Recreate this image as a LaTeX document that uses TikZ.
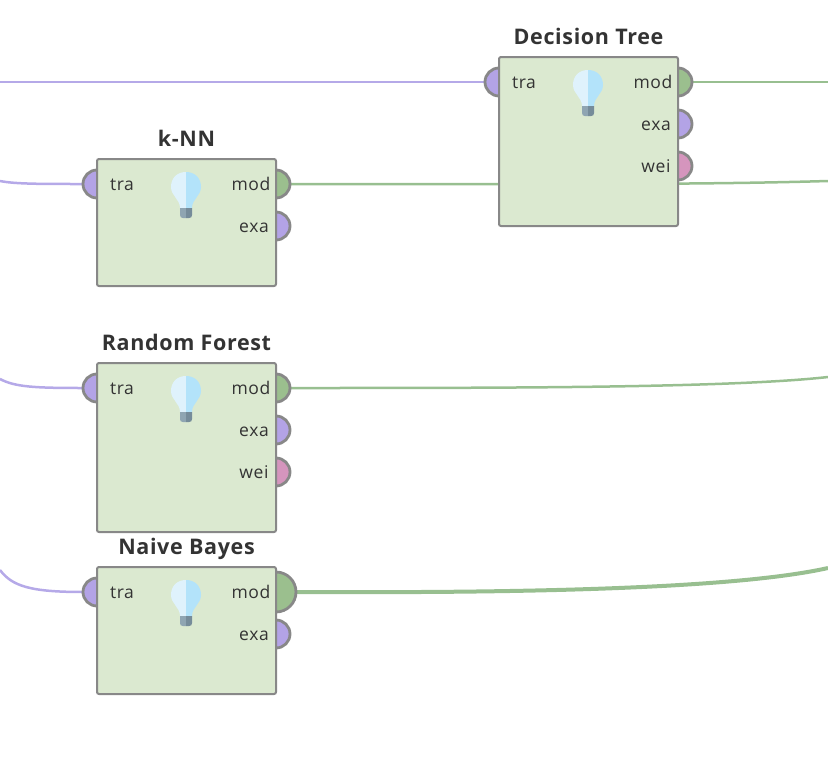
\documentclass[tikz,border=0pt]{standalone}
\usepackage{fontspec}
\setmainfont{Open Sans}
\newfontfamily\titlefont{Open Sans}[LetterSpace=3]
\newfontfamily\labelfont{Open Sans}[LetterSpace=3.5]
\usetikzlibrary{backgrounds}

\definecolor{boxgreen}{HTML}{DBE9D0}
\definecolor{boxline}{HTML}{888888}
\definecolor{portpurple}{HTML}{B3A3E6}
\definecolor{portgreen}{HTML}{9BBF8E}
\definecolor{portpink}{HTML}{D595BD}
\definecolor{wirepurple}{HTML}{B5A9E8}
\definecolor{wiregreen}{HTML}{98BF90}
\definecolor{txtdark}{HTML}{333333}
\definecolor{bulbleft}{HTML}{DFF2FC}
\definecolor{bulbright}{HTML}{B3E3FA}
\definecolor{baseleft}{HTML}{8FA5B2}
\definecolor{baseright}{HTML}{768C9A}

\tikzset{
	opbox/.style={draw=boxline,fill=boxgreen,line width=2pt,rounded corners=2pt,anchor=north west,minimum width=179pt,inner sep=0pt,outer sep=0pt},
	port/.style={circle,draw=boxline,line width=2.8pt,minimum size=28pt,inner sep=0pt,outer sep=0pt},
	bigport/.style={port,minimum size=40pt},
	optitle/.style={font=\titlefont\fontsize{21.5}{21.5}\selectfont\bfseries,text=txtdark,anchor=base},
	portlabel/.style={font=\labelfont\fontsize{17.5}{17.5}\selectfont,text=txtdark,anchor=base},
	purplewire/.style={draw=wirepurple,line width=2.5pt},
	greenwire/.style={draw=wiregreen,line width=2.5pt},
}

% bulb icon, #1 is its centre top
\newcommand{\drawbulb}[1]{
	\begin{scope}[shift={#1}]
		\fill[bulbleft] (0,0) .. controls (-9,0) and (-15,6) .. (-15,15) .. controls (-15,24) and (-6,27) .. (-6,36) -- (0,36) -- cycle;
		\fill[bulbright] (0,0) .. controls (9,0) and (15,6) .. (15,15) .. controls (15,24) and (6,27) .. (6,36) -- (0,36) -- cycle;
		\fill[baseleft] (-6,36) -- (0,36) -- (0,46) -- (-3,46) .. controls (-5,46) and (-6,45) .. (-6,43) -- cycle;
		\fill[baseright] (6,36) -- (0,36) -- (0,46) -- (3,46) .. controls (5,46) and (6,45) .. (6,43) -- cycle;
	\end{scope}
}

\begin{document}
\begin{tikzpicture}[x=1pt,y=-1pt]
	\useasboundingbox (0,0) rectangle (828,758);
	\coordinate (leftA) at (0,82);
	\coordinate (leftB) at (0,181);
	\coordinate (leftC) at (0,379);
	\coordinate (leftD) at (0,570);
	\coordinate (rightA) at (828,82);
	\coordinate (rightB) at (828,181);
	\coordinate (rightC) at (828,377);
	\coordinate (rightD) at (828,568);

	% k-NN
	\begin{scope}[shift={(97,159)}]
		\node[port,fill=portpurple] (knntra) at (0,25) {};
		\node[port,fill=portgreen] (knnmod) at (179,25) {};
		\node[port,fill=portpurple] (knnexa) at (179,67) {};
		\node[opbox,minimum height=127pt] (knn) at (0,0) {};
		\node[optitle] (knntitle) at (89.5,-13) {k-NN};
		\node[portlabel] (knntraL) at (25,31) {tra};
		\node[portlabel] (knnmodL) at (154,31) {mod};
		\node[portlabel] (knnexaL) at (157,73) {exa};
		\drawbulb{(89,13)}
	\end{scope}

	% Decision Tree
	\begin{scope}[shift={(499,57)}]
		\node[port,fill=portpurple] (dttra) at (0,25) {};
		\node[port,fill=portgreen] (dtmod) at (179,25) {};
		\node[port,fill=portpurple] (dtexa) at (179,67) {};
		\node[port,fill=portpink] (dtwei) at (179,109) {};
		\node[opbox,minimum height=169pt] (dt) at (0,0) {};
		\node[optitle] (dttitle) at (89.5,-13) {Decision Tree};
		\node[portlabel] (dttraL) at (25,31) {tra};
		\node[portlabel] (dtmodL) at (154,31) {mod};
		\node[portlabel] (dtexaL) at (157,73) {exa};
		\node[portlabel] (dtweiL) at (157,115) {wei};
		\drawbulb{(89,13)}
	\end{scope}

	% Random Forest
	\begin{scope}[shift={(97,363)}]
		\node[port,fill=portpurple] (rftra) at (0,25) {};
		\node[port,fill=portgreen] (rfmod) at (179,25) {};
		\node[port,fill=portpurple] (rfexa) at (179,67) {};
		\node[port,fill=portpink] (rfwei) at (179,109) {};
		\node[opbox,minimum height=169pt] (rf) at (0,0) {};
		\node[optitle] (rftitle) at (89.5,-13) {Random Forest};
		\node[portlabel] (rftraL) at (25,31) {tra};
		\node[portlabel] (rfmodL) at (154,31) {mod};
		\node[portlabel] (rfexaL) at (157,73) {exa};
		\node[portlabel] (rfweiL) at (157,115) {wei};
		\drawbulb{(89,13)}
	\end{scope}

	% Naive Bayes
	\begin{scope}[shift={(97,567)}]
		\node[port,fill=portpurple] (nbtra) at (0,25) {};
		\node[bigport,fill=portgreen] (nbmod) at (179,25) {};
		\node[port,fill=portpurple] (nbexa) at (179,67) {};
		\node[opbox,minimum height=127pt] (nb) at (0,0) {};
		\node[optitle] (nbtitle) at (89.5,-13) {Naive Bayes};
		\node[portlabel] (nbtraL) at (25,31) {tra};
		\node[portlabel] (nbmodL) at (154,31) {mod};
		\node[portlabel] (nbexaL) at (157,73) {exa};
		\drawbulb{(89,13)}
	\end{scope}

	\begin{pgfonlayer}{background}
		\draw[purplewire] (leftA) -- (dttra.west);
		\draw[purplewire] (leftB) .. controls (15,184) and (40,184) .. (knntra.west);
		\draw[purplewire] (leftC) .. controls (15,387) and (35,388) .. (rftra.west);
		\draw[purplewire] (leftD) .. controls (12,586) and (30,592) .. (nbtra.west);
		\draw[greenwire] (dtmod.east) -- (rightA);
		\draw[greenwire] (knnmod.east) -- (560,184) .. controls (680,184) and (760,183) .. (rightB);
		\draw[greenwire] (rfmod.east) .. controls (500,388) and (730,388) .. (rightC);
		\draw[greenwire,line width=4pt] (nbmod.east) .. controls (500,593) and (730,590) .. (rightD);
	\end{pgfonlayer}
\end{tikzpicture}
\end{document}
